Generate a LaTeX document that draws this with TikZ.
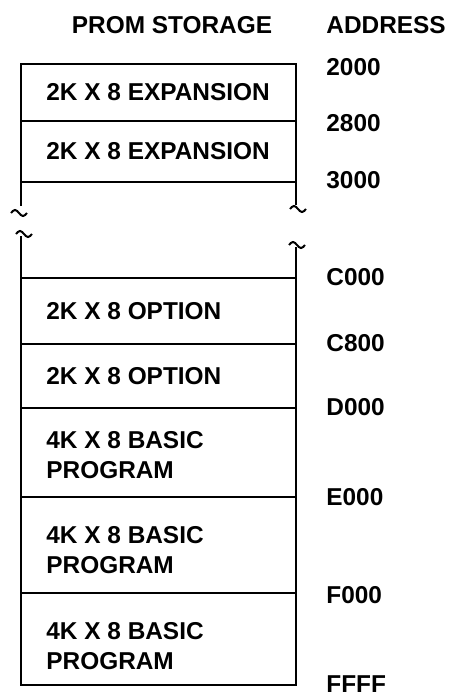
\documentclass[tikz,border=0pt]{standalone}
\usepackage{fontspec}
\setmainfont{Liberation Sans}
\usepackage{tikz}
\tikzset{
  memline/.style={line width=1pt},
  celltext/.style={anchor=west,inner sep=0pt,align=left,font=\fontsize{12.2}{15}\selectfont\bfseries},
  addrtext/.style={anchor=west,inner sep=0pt,font=\fontsize{12.2}{15}\selectfont\bfseries},
}

\begin{document}
\begin{tikzpicture}[x=0.5pt,y=-0.5pt]
\path[use as bounding box] (0,0) rectangle (449,696);
% headings
\node[addrtext,anchor=center] (promhead) at (172,25) {PROM STORAGE};
\node[addrtext] (addrhead) at (326,25) {ADDRESS};
% upper block
\draw[memline] (21,206) -- (21,64) -- (296,64) -- (296,205);
\draw[memline] (21,121) -- (296,121);
\draw[memline] (21,182) -- (296,182);
% break marks
\draw[memline] (11,213) sin (15,210) cos (19,213) sin (23,216) cos (27,213);
\draw[memline] (16,234) sin (20,231) cos (24,234) sin (28,237) cos (32,234);
\draw[memline] (290,209) sin (294,206) cos (298,209) sin (302,212) cos (306,209);
\draw[memline] (289,245) sin (293,242) cos (297,245) sin (301,248) cos (305,245);
% lower block
\draw[memline] (21,236) -- (21,685) -- (296,685) -- (296,247);
\draw[memline] (21,278) -- (296,278);
\draw[memline] (21,344) -- (296,344);
\draw[memline] (21,408) -- (296,408);
\draw[memline] (21,497) -- (296,497);
\draw[memline] (21,593) -- (296,593);
% cell labels
\node[celltext] (exp1) at (46,92) {2K X 8 EXPANSION};
\node[celltext] (exp2) at (46,151) {2K X 8 EXPANSION};
\node[celltext] (opt1) at (46,311) {2K X 8 OPTION};
\node[celltext] (opt2) at (46,376) {2K X 8 OPTION};
\node[celltext] (basic1) at (46,455) {4K X 8 BASIC\\PROGRAM};
\node[celltext] (basic2) at (46,550) {4K X 8 BASIC\\PROGRAM};
\node[celltext] (basic3) at (46,646) {4K X 8 BASIC\\PROGRAM};
% addresses
\node[addrtext] (a2000) at (326,67) {2000};
\node[addrtext] (a2800) at (326,123) {2800};
\node[addrtext] (a3000) at (326,180) {3000};
\node[addrtext] (aC000) at (326,277) {C000};
\node[addrtext] (aC800) at (326,343) {C800};
\node[addrtext] (aD000) at (326,407) {D000};
\node[addrtext] (aE000) at (326,497) {E000};
\node[addrtext] (aF000) at (326,595) {F000};
\node[addrtext] (aFFFF) at (326,684) {FFFF};
\end{tikzpicture}
\end{document}
